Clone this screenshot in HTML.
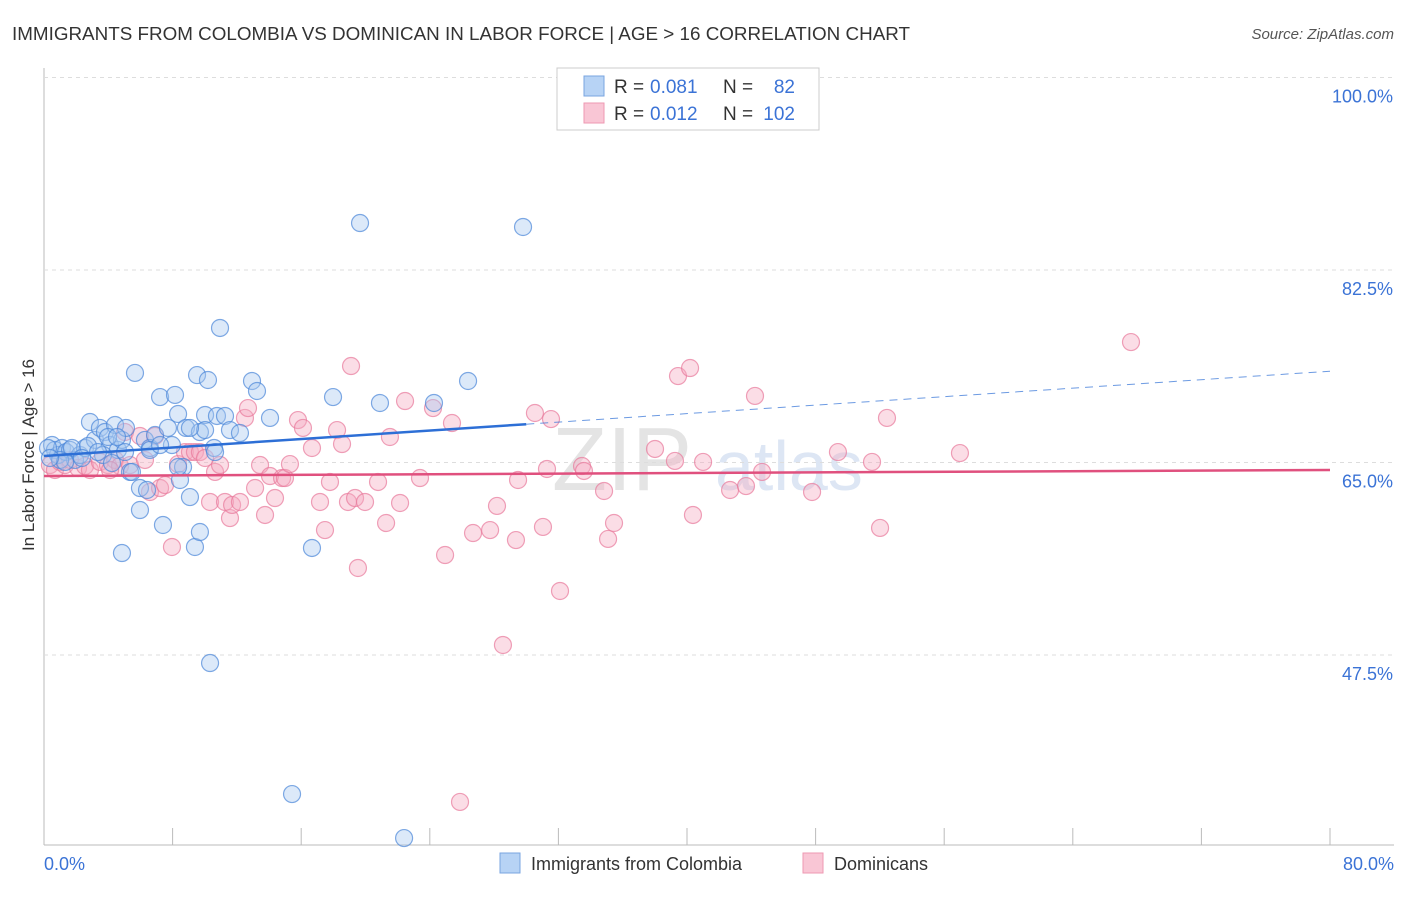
<!DOCTYPE html>
<html><head><meta charset="utf-8"><style>
body{margin:0;background:#fff;font-family:"Liberation Sans",sans-serif;}
svg text{font-family:"Liberation Sans",sans-serif;}
</style></head><body>
<svg id="chart" width="1406" height="892" xmlns="http://www.w3.org/2000/svg">
<text x="12" y="40" font-size="18" fill="#333" textLength="898" lengthAdjust="spacingAndGlyphs">IMMIGRANTS FROM COLOMBIA VS DOMINICAN IN LABOR FORCE | AGE &gt; 16 CORRELATION CHART</text>
<text x="1394" y="39" font-size="15" fill="#555" font-style="italic" text-anchor="end">Source: ZipAtlas.com</text>
<text x="552" y="490" font-size="90" fill="#e4e4e4" font-family="Liberation Serif">ZIP</text>
<text x="715" y="490" font-size="70" fill="#dde6f4">atlas</text>
<g id="grid"></g><g id="marks"></g>
<text transform="translate(34,455) rotate(-90)" font-size="17" fill="#333" text-anchor="middle">In Labor Force | Age &gt; 16</text>
<text x="44" y="870" font-size="18" fill="#3b73d6">0.0%</text>
<text x="1394" y="870" font-size="18" fill="#3b73d6" text-anchor="end">80.0%</text>
<g>
<rect x="557" y="68" width="262" height="62" fill="#fff" stroke="#ccc"/>
<rect x="584" y="76" width="20" height="20" fill="#b7d3f5" stroke="#7aa5e0"/>
<rect x="584" y="103" width="20" height="20" fill="#f9c6d5" stroke="#ee98b2"/>
<text x="614" y="93" font-size="19" fill="#333">R =</text>
<text x="650" y="93" font-size="19" fill="#3b73d6">0.081</text>
<text x="723" y="93" font-size="19" fill="#333">N =</text>
<text x="795" y="93" font-size="19" fill="#3b73d6" text-anchor="end">82</text>
<text x="614" y="120" font-size="19" fill="#333">R =</text>
<text x="650" y="120" font-size="19" fill="#3b73d6">0.012</text>
<text x="723" y="120" font-size="19" fill="#333">N =</text>
<text x="795" y="120" font-size="19" fill="#3b73d6" text-anchor="end">102</text>
</g>
<g>
<rect x="500" y="853" width="20" height="20" fill="#b7d3f5" stroke="#7aa5e0"/>
<text x="531" y="870" font-size="18" fill="#333">Immigrants from Colombia</text>
<rect x="803" y="853" width="20" height="20" fill="#f9c6d5" stroke="#ee98b2"/>
<text x="834" y="870" font-size="18" fill="#333">Dominicans</text>
</g>
</svg>
<script>
const yTicks=[100,82.5,65,47.5];
const xTicks=[0,8,16,24,32,40,48,56,64,72,80];
const blueX=[0.5,0.68,0.87,1.12,1.37,1.62,1.93,2.24,2.55,2.86,3.17,3.48,3.79,4.11,4.42,4.6,4.85,5.1,5.35,5.66,5.97,6.28,6.59,6.91,7.22,7.4,7.71,7.96,8.15,8.34,8.46,8.65,8.83,9.08,9.39,9.52,9.7,10.02,10.2,10.33,10.58,10.76,10.95,11.26,11.57,12.19,12.94,13.25,14.06,15.43,16.67,17.98,19.66,20.9,22.4,24.26,26.38,29.8,4.85,1.0,1.74,2.74,3.67,4.23,5.47,5.97,6.59,3.98,5.04,3.36,1.31,2.36,4.54,9.7,10.64,6.41,8.34,10.02,9.08,7.22,0.25,0.37];
const blueY=[66.59,66.14,65.68,66.32,65.95,66.14,65.23,65.68,66.32,68.68,67.05,68.14,67.77,66.59,68.41,66.14,67.05,68.14,64.14,73.14,60.68,67.05,66.32,67.5,70.95,59.32,68.14,66.59,71.14,69.41,63.41,64.59,68.14,61.86,57.32,72.95,58.68,69.32,72.5,46.77,66.32,69.23,77.23,69.23,67.95,67.68,72.41,71.5,69.05,34.86,57.23,70.95,86.77,70.41,30.86,70.41,72.41,86.41,56.77,65.23,66.32,66.5,65.68,64.95,64.14,62.68,66.14,67.32,65.95,65.95,65.05,65.41,67.32,67.77,65.95,62.5,64.59,67.95,68.14,66.59,66.32,65.41];
const pinkX=[0.37,0.68,1.0,1.31,1.62,2.12,2.55,2.86,3.48,3.98,4.42,4.73,5.04,5.35,5.97,6.28,6.59,6.91,7.22,7.53,7.96,8.34,8.77,9.08,9.39,9.7,10.02,10.33,10.64,10.95,11.26,11.57,11.7,12.19,12.5,12.69,13.13,13.44,13.75,14.06,14.37,14.81,14.99,15.3,15.8,16.11,16.67,17.17,17.48,17.79,18.23,18.54,18.91,19.1,19.35,19.53,19.97,20.78,21.28,21.52,22.15,22.46,23.39,24.2,24.95,25.38,25.88,26.69,27.75,28.18,28.55,29.36,29.49,30.54,31.04,31.29,31.54,32.1,33.47,33.59,34.84,35.09,35.46,38.01,39.25,39.44,40.19,40.37,41.0,42.68,43.67,44.23,44.67,47.78,49.39,51.51,52.01,52.44,56.98,67.62,4.11];
const pinkY=[64.77,64.32,65.05,64.77,65.23,64.5,64.68,64.32,65.05,64.77,65.23,64.68,67.77,64.77,67.41,65.23,62.32,67.41,62.68,62.95,57.32,64.86,65.95,65.95,65.95,65.95,65.41,61.41,64.14,64.77,61.41,59.95,61.14,61.41,69.05,69.95,62.68,64.77,60.23,63.77,61.77,63.59,63.59,64.86,68.86,68.14,66.32,61.41,58.86,63.23,67.95,66.68,61.41,73.77,61.77,55.41,61.41,63.23,59.5,67.32,61.32,70.59,63.59,69.95,56.59,68.59,34.14,58.59,58.86,61.05,48.41,57.95,63.41,69.5,59.14,64.41,68.95,53.32,64.68,64.23,62.41,58.05,59.5,66.23,65.14,72.86,73.59,60.23,65.05,62.5,62.86,71.05,64.14,62.32,65.95,65.05,59.05,69.05,65.86,75.95,64.32];
const blueTrend=[65.59,73.3]; const blueSolidEnd=30;
const pinkTrend=[63.77,64.32];
const NS='http://www.w3.org/2000/svg';
const X=v=>44+v*16.075, Y=v=>462.5-(v-65)*11;
const grid=document.getElementById('grid'), marks=document.getElementById('marks');
function mk(tag,attrs,parent){const e=document.createElementNS(NS,tag);for(const k in attrs)e.setAttribute(k,attrs[k]);parent.appendChild(e);return e;}
let ax=mk('line',{x1:44,y1:68,x2:44,y2:845,stroke:'#bbb'},grid);


let bx=mk('line',{x1:44,y1:845,x2:1394,y2:845,stroke:'#bbb'},grid);


yTicks.forEach(t=>{
 const g=mk('line',{x1:44,y1:Y(t),x2:1394,y2:Y(t),stroke:'#ddd','stroke-dasharray':'4,4'},grid);
 
 
 const l=mk('text',{x:1393,y:Y(t)+25,'font-size':18,fill:'#3b73d6','text-anchor':'end'},grid);
 l.textContent=t.toFixed(1)+'%';
 
 
});
xTicks.forEach(t=>{
 const k=mk('line',{x1:X(t),y1:828,x2:X(t),y2:845,stroke:'#bbb'},grid);
 
 
});
function pts(xs,ys,fill,stroke,name){xs.forEach((x,i)=>{
 const c=mk('circle',{cx:X(x),cy:Y(ys[i]),r:8.5,fill:fill,'fill-opacity':0.4,stroke:stroke,'stroke-opacity':0.7,'stroke-width':1.2},marks);
 
 
});}
pts(pinkX,pinkY,'#f4a9c0','#e8799b','dominican-point');
pts(blueX,blueY,'#a7c7f0','#4a86d8','colombia-point');
const bt=v=>blueTrend[0]+(blueTrend[1]-blueTrend[0])*v/80;
let l1=mk('line',{x1:X(0),y1:Y(bt(0)),x2:X(blueSolidEnd),y2:Y(bt(blueSolidEnd)),stroke:'#2d6fd6','stroke-width':2.5},marks);


let l2=mk('line',{x1:X(blueSolidEnd),y1:Y(bt(blueSolidEnd)),x2:X(80),y2:Y(bt(80)),stroke:'#2d6fd6','stroke-width':1,'stroke-dasharray':'8,6','stroke-opacity':0.7},marks);


let l3=mk('line',{x1:X(0),y1:Y(pinkTrend[0]),x2:X(80),y2:Y(pinkTrend[1]),stroke:'#e0507e','stroke-width':2.5},marks);


</script>
</body></html>
